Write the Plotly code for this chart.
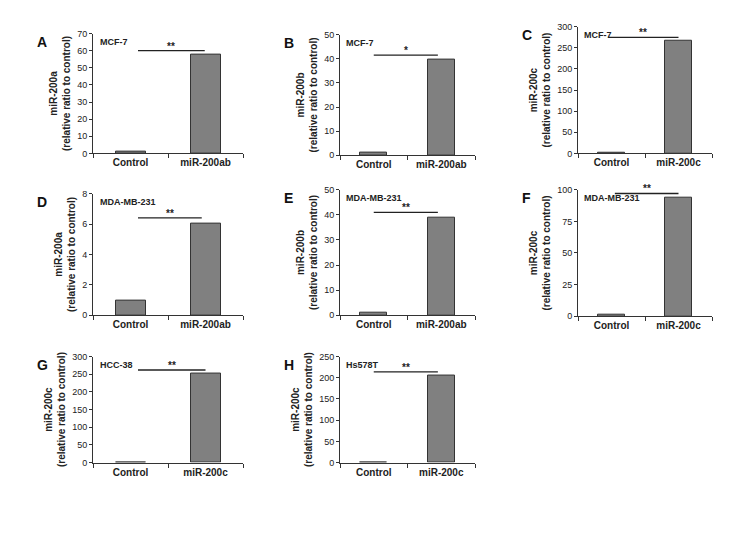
import plotly.graph_objects as go

W, H = 756, 543
OFF = 8  # page body margin

categories_ab = ["Control", "miR-200ab"]
categories_c = ["Control", "miR-200c"]

values_a = [1, 57.5]
values_b = [1, 39.5]
values_c = [1, 268]
values_d = [1, 6]
values_e = [1, 39]
values_f = [1, 94]
values_g = [1, 253]
values_h = [1, 205]

# letter, cell line, y title, categories, values, ymax, dtick, sig y, stars, box px (x0, x1, ytop, ybot), line x range
panels = [
    ("A", "MCF-7", "miR-200a", categories_ab, values_a, 70, 10, 60, "**", (93, 243, 29, 151), (0.1, 0.99)),
    ("B", "MCF-7", "miR-200b", categories_ab, values_b, 50, 10, 41.5, "*", (340, 475, 30, 153), (0.0, 0.95)),
    ("C", "MCF-7", "miR-200c", categories_c, values_c, 300, 50, 275, "**", (578, 712, 22, 151), (-0.05, 1.0)),
    ("D", "MDA-MB-231", "miR-200a", categories_ab, values_d, 8, 2, 6.4, "**", (93, 243, 192, 316), (0.1, 0.95)),
    ("E", "MDA-MB-231", "miR-200b", categories_ab, values_e, 50, 10, 41, "**", (340, 475, 188, 316), (0.0, 0.95)),
    ("F", "MDA-MB-231", "miR-200c", categories_c, values_f, 100, 25, 97, "**", (578, 712, 188, 317), (0.05, 1.0)),
    ("G", "HCC-38", "miR-200c", categories_c, values_g, 300, 50, 262, "**", (93, 243, 358, 466), (0.1, 1.0)),
    ("H", "Hs578T", "miR-200c", categories_c, values_h, 250, 50, 214, "**", (340, 475, 358, 466), (0.0, 0.95)),
]

font = dict(family="Liberation Sans, Arial", size=9, color="#222")
font10 = dict(family="Liberation Sans, Arial", size=10, color="#222")
fig = go.Figure()
annotations = []
shapes = []

for i, (letter, line, ytitle, cats, vals, ymax, dtick, sig, stars, box, lx) in enumerate(panels):
    n = "" if i == 0 else str(i + 1)
    x0, x1, yt, yb = box
    x0, x1, yt, yb = x0 - OFF, x1 - OFF, yt - OFF, yb - OFF
    fig.add_trace(go.Bar(
        x=[0, 1], y=vals, width=0.4, marker=dict(color="#808080", line=dict(color="#333", width=1)),
        xaxis="x" + n, yaxis="y" + n, showlegend=False,
    ))
    fig.update_layout(**{
        "xaxis" + n: dict(
            domain=[x0 / W, x1 / W], anchor="y" + n, range=[-0.5, 1.5],
            tickvals=[0, 1], ticktext=["<b>" + c + "</b>" for c in cats], ticks="", showline=True, linecolor="#333",
            tickfont=font10,
            minor=dict(tickvals=[-0.5, 0.5, 1.5], ticks="outside", ticklen=4, tickcolor="#333"),
            showgrid=False, zeroline=False, fixedrange=True,
        ),
        "yaxis" + n: dict(
            domain=[1 - yb / H, 1 - yt / H], anchor="x" + n, range=[0, ymax], dtick=dtick,
            ticks="outside", ticklen=3, tickcolor="#333", showline=True, linecolor="#333",
            showgrid=False, zeroline=False, tickfont=font,
            title=dict(text="<b>" + ytitle + "<br>(relative ratio to control)</b>", font=font10, standoff=4),
        ),
    })
    annotations.append(dict(x=(x0 - 58) / W, y=1 - (yt - 2) / H, xref="paper", yref="paper", text="<b>" + letter + "</b>",
                            showarrow=False, font=dict(family="Liberation Sans, Arial", size=14, color="#111"), xanchor="left", yanchor="top"))
    annotations.append(dict(x=0.03, y=0.99, xref="x" + n + " domain", yref="y" + n + " domain", text="<b>" + line + "</b>",
                            showarrow=False, font=font, xanchor="left", yanchor="top"))
    annotations.append(dict(x=(lx[0] + lx[1]) / 2, y=sig, xref="x" + n, yref="y" + n, text="<b>" + stars + "</b>",
                            showarrow=False, font=font10, yanchor="bottom", yshift=-3))
    shapes.append(dict(type="line", x0=lx[0], x1=lx[1], y0=sig, y1=sig, xref="x" + n, yref="y" + n,
                       line=dict(color="#222", width=1.3)))

fig.update_layout(
    width=W, height=H, margin=dict(l=0, r=0, t=0, b=0),
    paper_bgcolor="white", plot_bgcolor="white", bargap=0,
    annotations=annotations, shapes=shapes,
)
fig.write_html("out.html")
